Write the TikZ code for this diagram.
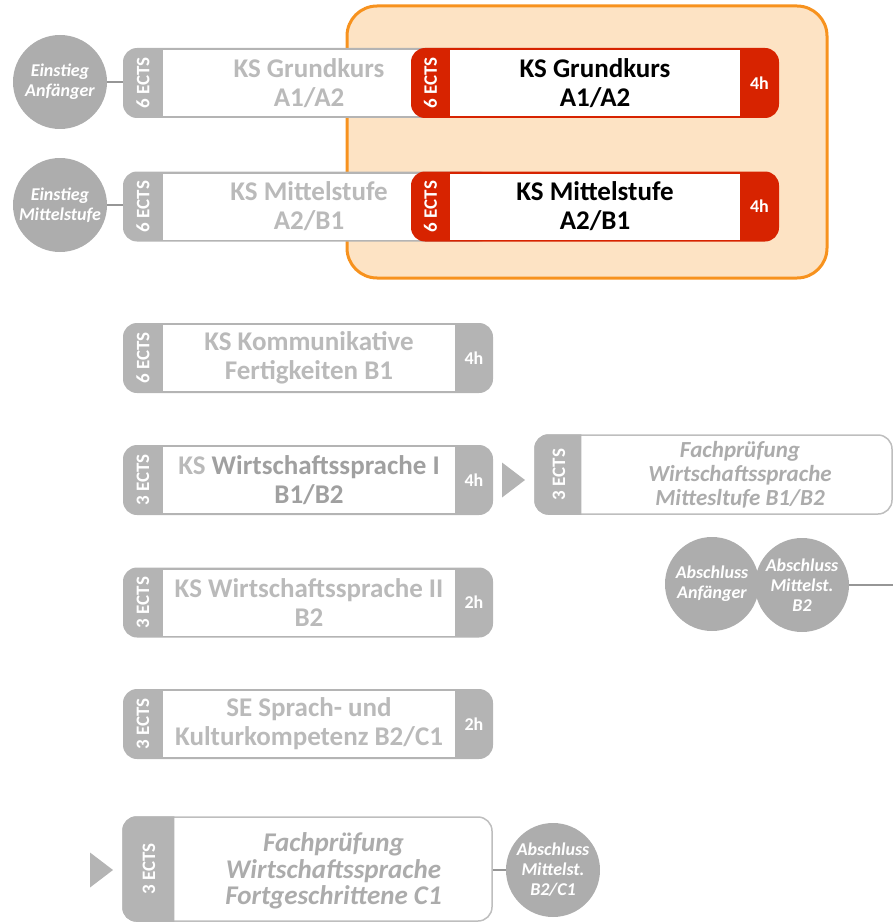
\documentclass[tikz,border=0pt]{standalone}
\usepackage{fontspec}
\setmainfont{Carlito}
\usetikzlibrary{calc}
\definecolor{tabgray}{RGB}{180,180,180}
\definecolor{circgray}{RGB}{173,173,173}
\definecolor{txtgray}{RGB}{186,186,186}
\definecolor{txtdark}{RGB}{160,160,160}
\definecolor{ftxt}{RGB}{172,172,172}
\definecolor{kred}{RGB}{215,35,0}
\definecolor{oline}{RGB}{247,146,30}
\definecolor{ofill}{RGB}{253,227,196}
\definecolor{linegray}{RGB}{150,150,150}
\definecolor{fgray}{RGB}{190,190,190}
\begin{document}
\begin{tikzpicture}[x=1pt,y=-1pt,
 kbase/.style={rounded corners=14pt, minimum width=370pt, minimum height=70pt, inner sep=0pt, draw=none, fill=tabgray},
 rbase/.style={kbase, minimum width=368pt, fill=kred},
 kbody/.style={fill=white, minimum width=292pt, minimum height=66pt, inner sep=0pt, align=center, text=txtgray, font=\fontsize{27}{29}\selectfont\bfseries},
 rbody/.style={kbody, minimum width=290pt, text=black},
 ects/.style={rotate=90, text=white, font=\fontsize{19}{19}\selectfont\bfseries, inner sep=0pt},
 hrs/.style={text=white, font=\fontsize{18}{18}\selectfont\bfseries, inner sep=0pt},
 circ/.style={circle, fill=circgray, minimum size=94pt, inner sep=0pt, align=center, text=white, font=\fontsize{18}{20}\selectfont\bfseries\itshape},
 conn/.style={draw=linegray, line width=1.2pt},
 fbase/.style={rounded corners=14pt, draw=fgray, line width=1.5pt, fill=white, inner sep=0pt},
 ftext/.style={align=center, text=ftxt, inner sep=0pt, font=\bfseries\itshape},
 tri/.style={fill=tabgray},
 obox/.style={rounded corners=30pt, draw=oline, line width=3pt, fill=ofill, minimum width=480pt, minimum height=272pt, inner sep=0pt}
]
\useasboundingbox (0,0) rectangle (893,923);

% orange highlight
\node[obox] (orange) at (587,142) {};

% left gray course boxes (top two)
\node[kbase] (g1) at (308,83) {};
\node[kbody] (g1b) at (309,83) {KS Grundkurs\\A1/A2};
\node[ects] (g1e) at (143,83) {6 ECTS};

\node[kbase] (g2) at (308,206.5) {};
\node[kbody] (g2b) at (309,206.5) {KS Mittelstufe\\A2/B1};
\node[ects] (g2e) at (143,206.5) {6 ECTS};

% red boxes
\node[rbase] (r1) at (595,83) {};
\node[rbody] (r1b) at (595,83) {KS Grundkurs\\A1/A2};
\node[ects] (r1e) at (430.5,83) {6 ECTS};
\node[hrs] (r1h) at (759.5,83) {4h};

\node[rbase] (r2) at (595,206.5) {};
\node[rbody] (r2b) at (595,206.5) {KS Mittelstufe\\A2/B1};
\node[ects] (r2e) at (430.5,206.5) {6 ECTS};
\node[hrs] (r2h) at (759.5,206.5) {4h};

% entry circles
\node[circ] (e1) at (60,82) {Einstieg\\Anfänger};
\node[circ] (e2) at (60,205) {Einstieg\\Mittelstufe};
\draw[conn] (e1.east) -- (e1.east -| g1.west);
\draw[conn] (e2.east) -- (e2.east -| g2.west);

% further gray course boxes
\node[kbase] (g3) at (308,358) {};
\node[kbody] (g3b) at (309,358) {KS Kommunikative\\Fertigkeiten B1};
\node[ects] (g3e) at (143,358) {6 ECTS};
\node[hrs] (g3h) at (474,358) {4h};

\node[kbase] (g4) at (308,480) {};
\node[kbody] (g4b) at (309,480) {KS {\color{txtdark}Wirtschaftssprache I}\\{\color{txtdark}B1/B2}};
\node[ects] (g4e) at (143,480) {3 ECTS};
\node[hrs] (g4h) at (474,480) {4h};

\node[kbase] (g5) at (308,602.5) {};
\node[kbody] (g5b) at (309,602.5) {KS Wirtschaftssprache II\\B2};
\node[ects] (g5e) at (143,602.5) {3 ECTS};
\node[hrs] (g5h) at (474,602.5) {2h};

\node[kbase] (g6) at (308,724) {};
\node[kbody] (g6b) at (309,724) {SE Sprach- und\\Kulturkompetenz B2/C1};
\node[ects] (g6e) at (143,724) {3 ECTS};
\node[hrs] (g6h) at (474,724) {2h};

% arrow to exam box
\coordinate (t1) at (525,480);
\fill[tri] (t1) -- ++(-23,-17.5) -- ++(0,35) -- cycle;

% exam box 1
\node[fbase, minimum width=357pt, minimum height=79pt] (f1) at (713.5,474.5) {};
\begin{scope}
\clip (f1.south west) rectangle ([xshift=47pt]f1.north west);
\fill[tabgray, rounded corners=14pt] (f1.south west) rectangle (f1.north east);
\end{scope}
\node[ects] (f1e) at (559,474.5) {3 ECTS};
\node[ftext, font=\fontsize{23}{24}\selectfont\bfseries\itshape] (f1t) at (740,474.5) {Fachprüfung\\Wirtschaftssprache\\Mittesltufe B1/B2};

% final circles
\node[circ] (a1) at (712,584) {Abschluss\\Anfänger};
\node[circ] (a2) at (802,585) {Abschluss\\Mittelst.\\B2};
\coordinate (rend) at (893,585);
\draw[conn] (a2.east) -- (rend);

% exam box 2
\coordinate (t2) at (113,870);
\fill[tri] (t2) -- ++(-23,-17.5) -- ++(0,35) -- cycle;
\node[fbase, minimum width=369pt, minimum height=104pt] (f2) at (307.5,869) {};
\begin{scope}
\clip (f2.south west) rectangle ([xshift=52pt]f2.north west);
\fill[tabgray, rounded corners=14pt] (f2.south west) rectangle (f2.north east);
\end{scope}
\node[ects] (f2e) at (149,869) {3 ECTS};
\node[ftext, font=\fontsize{27}{26.5}\selectfont\bfseries\itshape] (f2t) at (333.5,871) {Fachprüfung\\Wirtschaftssprache\\Fortgeschrittene C1};
\node[circ] (a3) at (553,870) {Abschluss\\Mittelst.\\B2/C1};
\draw[conn] (f2.east |- a3) -- (a3.west);
\end{tikzpicture}
\end{document}
